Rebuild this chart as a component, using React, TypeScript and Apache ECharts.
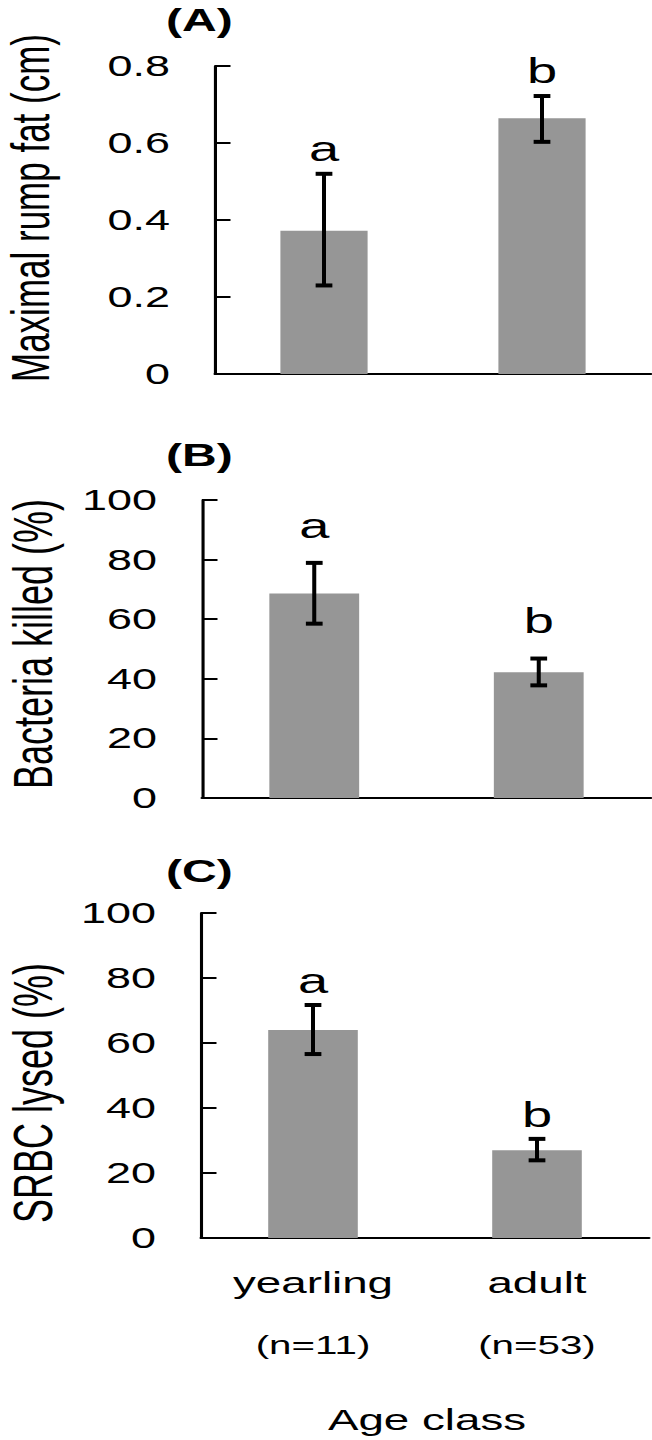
import React, { useEffect, useRef } from "react";
import * as echarts from "echarts";

// ---- data ----
const categories = ["yearling", "adult"];
const sampleSizes = ["(n=11)", "(n=53)"];

const fatMean = [0.372, 0.664];
const fatLow = [0.23, 0.603];
const fatHigh = [0.52, 0.722];
const fatLetters = ["a", "b"];
const fatTicks = [0, 0.2, 0.4, 0.6, 0.8];

const bactMean = [68.6, 42.2];
const bactLow = [58.5, 37.8];
const bactHigh = [78.9, 46.8];
const bactLetters = ["a", "b"];
const bactTicks = [0, 20, 40, 60, 80, 100];

const srbcMean = [64.0, 27.0];
const srbcLow = [56.6, 23.9];
const srbcHigh = [71.7, 30.5];
const srbcLetters = ["a", "b"];
const srbcTicks = [0, 20, 40, 60, 80, 100];

const panelTitles = ["(A)", "(B)", "(C)"];
const yNames = ["Maximal rump fat (cm)", "Bacteria killed (%)", "SRBC lysed (%)"];
const xName = "Age class";

// ---- layout (page pixels; the figure is stretched horizontally) ----
const W = 652;
const H = 1440;
const S = 1.55; // horizontal stretch of the whole figure
const FONT = '"Liberation Sans", Arial, sans-serif';

const panels = [
  { mean: fatMean, low: fatLow, high: fatHigh, letters: fatLetters, ticks: fatTicks,
    left: 215, right: 651, top: 66, bottom: 374, titleY: 20, nameX: 31, nameY: 208, nameSize: 35, letterGap: 25 },
  { mean: bactMean, low: bactLow, high: bactHigh, letters: bactLetters, ticks: bactTicks,
    left: 202, right: 651, top: 500, bottom: 798, titleY: 455, nameX: 32, nameY: 644, nameSize: 36, letterGap: 37 },
  { mean: srbcMean, low: srbcLow, high: srbcHigh, letters: srbcLetters, ticks: srbcTicks,
    left: 201, right: 649, top: 913, bottom: 1238, titleY: 871, nameX: 32, nameY: 1093, nameSize: 36, letterGap: 24 },
];

export default function App() {
  const ref = useRef<HTMLDivElement>(null);

  useEffect(() => {
    if (!ref.current) return;
    const chart = echarts.init(ref.current, null, { renderer: "svg" });

    const grid: any[] = [];
    const xAxis: any[] = [];
    const yAxis: any[] = [];
    const series: any[] = [];
    const graphic: any[] = [];

    panels.forEach((p, i) => {
      grid.push({
        left: p.left / S,
        width: (p.right - p.left) / S,
        top: p.top,
        height: p.bottom - p.top,
        containLabel: false,
      });
      const last = i === panels.length - 1;
      xAxis.push({
        type: "category",
        gridIndex: i,
        data: categories,
        axisLine: { show: true, lineStyle: { color: "#000", width: 2 } },
        axisTick: { show: true, inside: true, alignWithLabel: true, length: 9, lineStyle: { color: "#000", width: 2 } },
        axisLabel: last
          ? {
              show: true,
              interval: 0,
              margin: 14,
              formatter: (v: string, idx: number) => `{c|${v}}\n{n|${sampleSizes[idx]}}`,
              rich: {
                c: { fontSize: 29.5, lineHeight: 62, fontFamily: FONT, color: "#000" },
                n: { fontSize: 26, lineHeight: 62, fontFamily: FONT, color: "#000" },
              },
            }
          : { show: false },
        splitLine: { show: false },
      });
      const t = p.ticks;
      yAxis.push({
        type: "value",
        gridIndex: i,
        min: t[0],
        max: t[t.length - 1],
        interval: t[1] - t[0],
        axisLine: { show: true, lineStyle: { color: "#000", width: 2 } },
        axisTick: { show: true, inside: true, length: 10, lineStyle: { color: "#000", width: 2 } },
        axisLabel: { fontSize: 29, color: "#000", fontFamily: FONT, margin: 29 },
        splitLine: { show: false },
      });
      series.push({
        type: "bar",
        xAxisIndex: i,
        yAxisIndex: i,
        data: p.mean,
        barWidth: "40%",
        itemStyle: { color: "#969696" },
        silent: true,
      });
      const letters = p.letters;
      const gap = p.letterGap;
      series.push({
        type: "custom",
        xAxisIndex: i,
        yAxisIndex: i,
        z: 5,
        data: p.mean.map((_, k) => [k, p.low[k], p.high[k]]),
        renderItem: (params: any, api: any) => {
          const x = api.value(0);
          const lo = api.coord([x, api.value(1)]);
          const hi = api.coord([x, api.value(2)]);
          const hw = 5.4;
          return {
            type: "group",
            children: [
              { type: "line", shape: { x1: hi[0], y1: hi[1], x2: lo[0], y2: lo[1] }, style: { stroke: "#000", lineWidth: 2.6 } },
              { type: "line", shape: { x1: hi[0] - hw, y1: hi[1], x2: hi[0] + hw, y2: hi[1] }, style: { stroke: "#000", lineWidth: 4 } },
              { type: "line", shape: { x1: lo[0] - hw, y1: lo[1], x2: lo[0] + hw, y2: lo[1] }, style: { stroke: "#000", lineWidth: 4 } },
              {
                type: "text",
                x: hi[0],
                y: hi[1] - gap,
                style: {
                  text: letters[params.dataIndex],
                  fontSize: 35,
                  fontFamily: FONT,
                  fill: "#000",
                  textAlign: "center",
                  textVerticalAlign: "middle",
                  align: "center",
                  verticalAlign: "middle",
                },
              },
            ],
          };
        },
      });
      graphic.push({
        type: "text",
        x: 166 / S,
        y: p.titleY,
        style: {
          text: panelTitles[i],
          fontSize: 31,
          fontWeight: "bold",
          fontFamily: FONT,
          fill: "#000",
          textAlign: "left",
          textVerticalAlign: "middle",
        },
      });
      graphic.push({
        type: "text",
        x: p.nameX / S,
        y: p.nameY,
        rotation: Math.PI / 2,
        style: {
          text: yNames[i],
          fontSize: p.nameSize,
          fontFamily: FONT,
          fill: "#000",
          textAlign: "center",
          textVerticalAlign: "middle",
        },
      });
    });

    graphic.push({
      type: "text",
      x: 427 / S,
      y: 1420,
      style: {
        text: xName,
        fontSize: 29.5,
        fontFamily: FONT,
        fill: "#000",
        textAlign: "center",
        textVerticalAlign: "middle",
      },
    });

    chart.setOption({
      animation: false,
      backgroundColor: "#fff",
      grid,
      xAxis,
      yAxis,
      series,
      graphic,
    });
    return () => chart.dispose();
  }, []);

  return (
    <div style={{ position: "absolute", left: 0, top: 0, width: W, height: H, overflow: "hidden", background: "#fff" }}>
      <div
        ref={ref}
        style={{ width: W / S, height: H, transform: `scaleX(${S})`, transformOrigin: "0 0" }}
      />
    </div>
  );
}
